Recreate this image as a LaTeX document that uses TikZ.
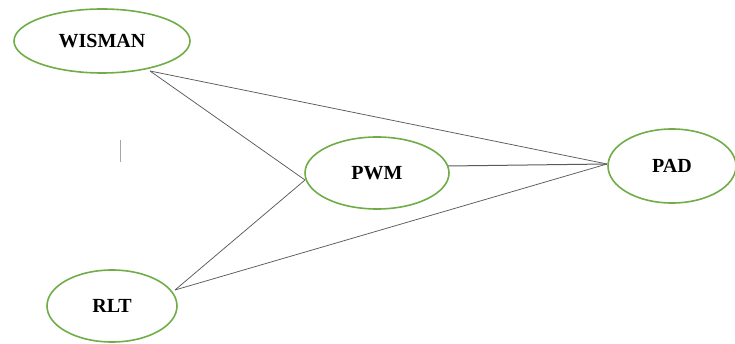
\documentclass[tikz,border=0pt]{standalone}
\usepackage{fontspec}
\setmainfont{Liberation Serif}
\usetikzlibrary{shapes.geometric}
\definecolor{ogreen}{RGB}{112,173,71}
\definecolor{lgray}{RGB}{90,90,90}
\tikzset{
  var/.style={ellipse, draw=ogreen, line width=1.6pt, fill=white, inner sep=0pt, font=\fontsize{20}{22}\selectfont\bfseries},
  link/.style={draw=lgray, line width=0.75pt}
}
\begin{document}
\begin{tikzpicture}[x=1pt,y=-1pt]
\useasboundingbox (0,0) rectangle (735,344);
\coordinate (w1) at (150,71);
\coordinate (pwl) at (305,180);
\coordinate (pwr) at (448,166);
\coordinate (pal) at (607,164);
\coordinate (rr) at (175,290);
\draw[link] (w1) -- (pwl);
\draw[link] (w1) -- (pal);
\draw[link, line width=1pt] (pwr) -- (pal);
\draw[link] (rr) -- (pwl);
\draw[link] (rr) -- (pal);
\node[var, minimum width=176pt, minimum height=64pt] (wisman) at (102,41) {WISMAN};
\node[var, minimum width=144pt, minimum height=72pt] (pwm) at (377,173) {PWM};
\node[var, minimum width=128pt, minimum height=74pt] (pad) at (672,166) {PAD};
\node[var, minimum width=130pt, minimum height=72pt] (rlt) at (112,306) {RLT};
\coordinate (c1) at (120,140);
\coordinate (c2) at (120,162);
\draw[draw=gray!70, line width=0.8pt] (c1) -- (c2);
\end{tikzpicture}
\end{document}
